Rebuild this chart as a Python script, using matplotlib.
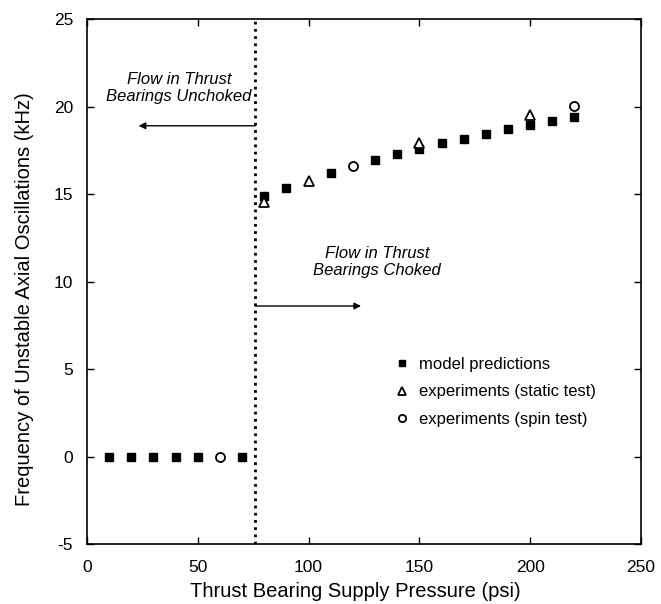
import matplotlib.pyplot as plt

plt.rcParams['font.family'] = ['Liberation Sans', 'DejaVu Sans']
plt.rcParams['axes.unicode_minus'] = False

# model predictions (squares)
model_x = [10, 20, 30, 40, 50, 70, 80, 90, 110, 130, 140, 150, 160, 170, 180, 190, 200, 210, 220]
model_y = [0, 0, 0, 0, 0, 0, 14.9, 15.35, 16.2, 16.94, 17.28, 17.58, 17.89, 18.17, 18.44, 18.69, 18.95, 19.2, 19.43]

# experiments, static test (triangles)
static_x = [80, 100, 150, 200]
static_y = [14.55, 15.77, 17.93, 19.5]

# experiments, spin test (circles)
spin_x = [60, 120, 220]
spin_y = [0, 16.63, 20.05]

choke_x = 76

fig = plt.figure(figsize=(6.61, 6.04), dpi=100)
ax = fig.add_axes([0.1316, 0.0993, 0.8381, 0.8692])

ax.plot(model_x, model_y, 's', color='black', ms=6, ls='none', zorder=3,
        label='model predictions')
ax.plot(static_x, static_y, '^', mfc='white', mec='black', mew=1.3, ms=7.5,
        ls='none', zorder=4, label='experiments (static test)')
ax.plot(spin_x, spin_y, 'o', mfc='white', mec='black', mew=1.3, ms=6.5,
        ls='none', zorder=4, label='experiments (spin test)')

ax.axvline(choke_x, color='black', lw=2, ls=(0, (1, 1.6)), zorder=2)

ax.annotate('', xy=(23.3, 18.9), xytext=(choke_x, 18.9),
            arrowprops=dict(arrowstyle='-|>', color='black', lw=1,
                            mutation_scale=10, shrinkA=0, shrinkB=0))
ax.annotate('', xy=(123.7, 8.6), xytext=(choke_x, 8.6),
            arrowprops=dict(arrowstyle='-|>', color='black', lw=1,
                            mutation_scale=10, shrinkA=0, shrinkB=0))

ax.text(41.5, 21.05, 'Flow in Thrust\nBearings Unchoked', style='italic',
        fontsize=12, ha='center', va='center', linespacing=1.2)
ax.text(131, 11.1, 'Flow in Thrust\nBearings Choked', style='italic',
        fontsize=12, ha='center', va='center', linespacing=1.2)

ax.set_xlim(0, 250)
ax.set_ylim(-5, 25)
ax.set_xticks(range(0, 251, 50))
ax.set_yticks(range(-5, 26, 5))
ax.tick_params(direction='in', top=True, right=True, length=5, width=1,
               labelsize=12.5)
ax.tick_params(axis='x', pad=11.5)
ax.tick_params(axis='y', pad=10)
for s in ax.spines.values():
    s.set_linewidth(1.2)

ax.set_xlabel('Thrust Bearing Supply Pressure (psi)', fontsize=14.5, labelpad=5,
              x=0.484)
ax.set_ylabel('Frequency of Unstable Axial Oscillations (kHz)', fontsize=14.5,
              labelpad=14, y=0.467)

ax.legend(loc='upper left', bbox_to_anchor=(0.53, 0.385), frameon=False,
          fontsize=12, handlelength=0.8, handletextpad=0.6, labelspacing=0.75,
          markerscale=0.8)

fig.savefig('out.png', dpi=100)
